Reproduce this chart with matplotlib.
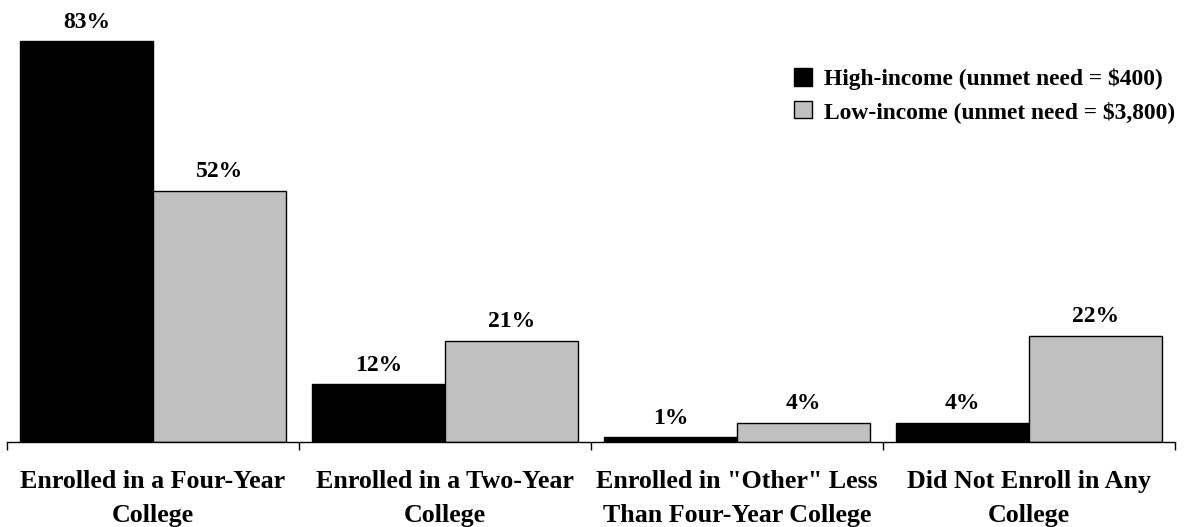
import numpy as np
import matplotlib.pyplot as plt

categories = [
    "Enrolled in a Four-Year\nCollege",
    "Enrolled in a Two-Year\nCollege",
    "Enrolled in \"Other\" Less\nThan Four-Year College",
    "Did Not Enroll in Any\nCollege",
]
high_income = [83, 12, 1, 4]
low_income = [52, 21, 4, 22]
series_labels = ["High-income (unmet need = $400)", "Low-income (unmet need = $3,800)"]

plt.rcParams["font.family"] = ["Liberation Serif", "DejaVu Serif"]
plt.rcParams["font.weight"] = "bold"


def main():
    fig = plt.figure(figsize=(11.86, 5.27), dpi=100)
    ax = fig.add_axes([7 / 1186, 85 / 527, 1168 / 1186, 442 / 527])

    x = np.arange(len(categories))
    w = 133 / 292
    b1 = ax.bar(x - w / 2, high_income, w, color="black", edgecolor="black",
                linewidth=1, label=series_labels[0])
    b2 = ax.bar(x + w / 2, low_income, w, color="#c0c0c0", edgecolor="black",
                linewidth=1, label=series_labels[1])
    for bars, vals in ((b1, high_income), (b2, low_income)):
        for rect, v in zip(bars, vals):
            ax.annotate(f"{v}%", (rect.get_x() + rect.get_width() / 2, v),
                        xytext=(0, 6), textcoords="offset points",
                        ha="center", va="bottom", fontsize=17, fontweight="bold")

    ax.set_xlim(-0.5, len(categories) - 0.5)
    ax.set_ylim(0, 91.5)
    for s in ("top", "right", "left"):
        ax.spines[s].set_visible(False)
    ax.spines["bottom"].set_linewidth(1)
    ax.set_yticks([])
    ax.set_xticks(np.arange(len(categories) + 1) - 0.5)
    ax.set_xticklabels([])
    ax.tick_params(axis="x", length=6, width=1, direction="out")
    ax.set_xticks(x, minor=True)
    ax.set_xticklabels(categories, minor=True, fontsize=18.7, fontweight="bold",
                       linespacing=1.6)
    ax.tick_params(axis="x", which="minor", length=0, pad=20.5)

    ax.legend(loc="upper right", bbox_to_anchor=(1178 / 1168, 0.867),
              frameon=False, fontsize=16.9, handlelength=0.75, handleheight=0.75,
              handletextpad=0.55, labelspacing=0.45, borderaxespad=0)

    fig.savefig("out.png", dpi=100)
    plt.close(fig)


if __name__ == "__main__":
    main()
